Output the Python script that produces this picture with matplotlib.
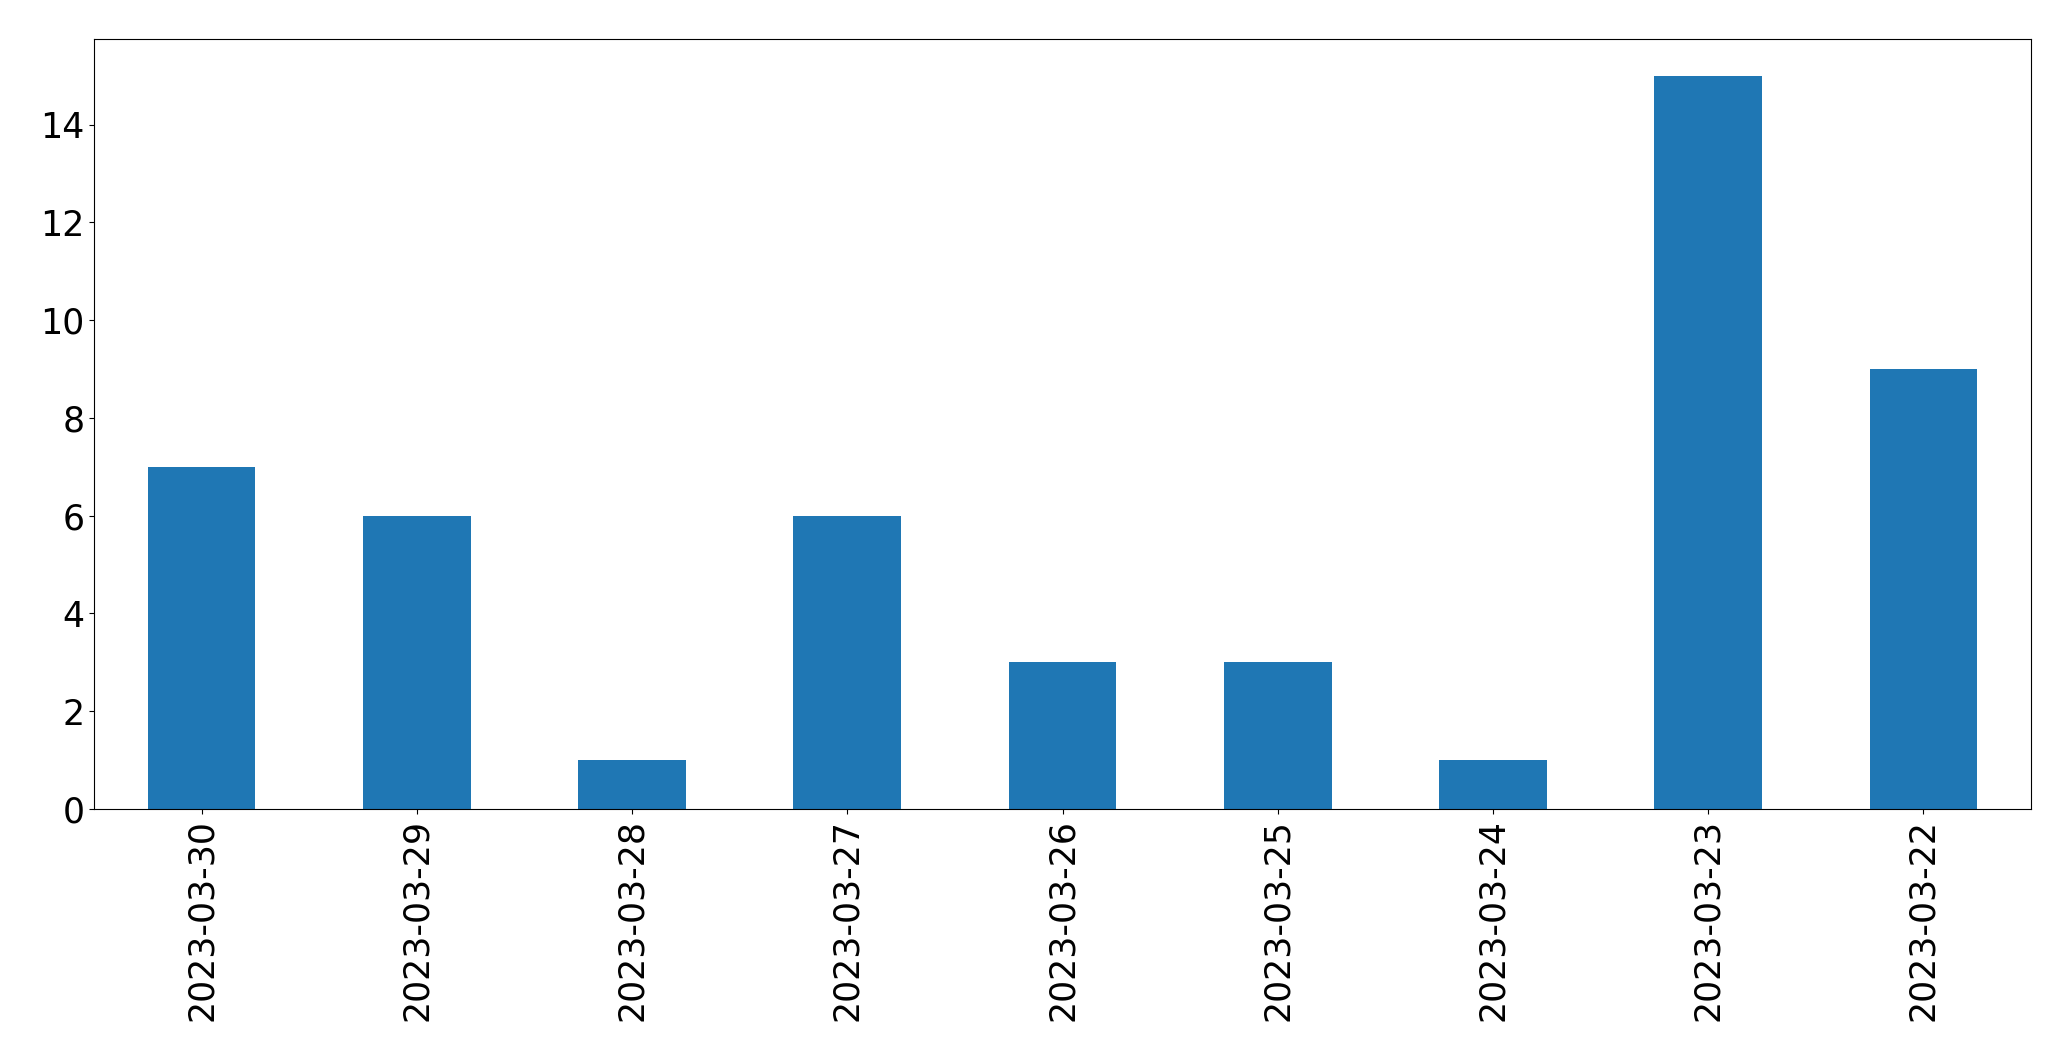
import matplotlib
matplotlib.use("Agg")
import matplotlib.pyplot as plt

dates = ["2023-03-30", "2023-03-29", "2023-03-28", "2023-03-27", "2023-03-26",
         "2023-03-25", "2023-03-24", "2023-03-23", "2023-03-22"]
counts = [7, 6, 1, 6, 3, 3, 1, 15, 9]

fig, ax = plt.subplots(figsize=(20.71, 10.61), dpi=100)
fig.subplots_adjust(left=0.0454, right=0.9807, top=0.9632, bottom=0.2375)

x = range(len(dates))
ax.bar(x, counts, width=0.5, color="#1f77b4")
ax.set_xlim(-0.5, len(dates) - 0.5)
ax.set_ylim(0, max(counts) * 1.05)
ax.set_xticks(list(x))
ax.set_xticklabels(dates, rotation=90)
ax.tick_params(axis="both", labelsize=25)

fig.savefig("out.png", dpi=100)
